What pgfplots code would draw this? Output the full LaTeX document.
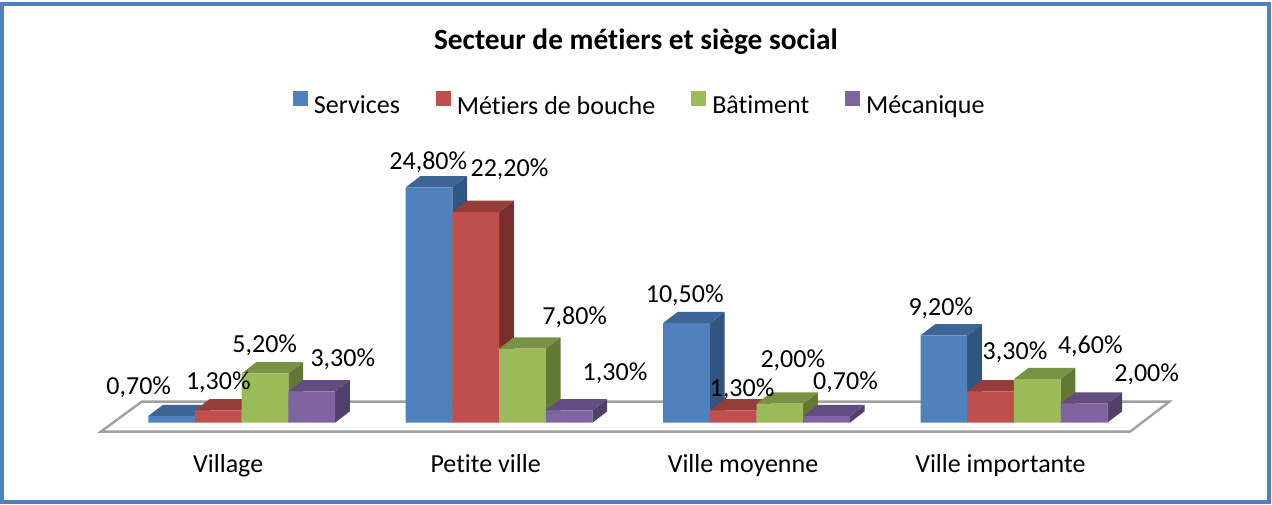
\documentclass[border=0pt]{standalone}
\usepackage{pgfplots}
\pgfplotsset{compat=1.18}
\usepackage{pgfplotstable}
\usepackage{fontspec}
\setmainfont{Carlito}[Ligatures=NoCommon]

\definecolor{fS}{HTML}{4F81BD}\definecolor{tS}{HTML}{3D6696}\definecolor{sS}{HTML}{2F5580}
\definecolor{fM}{HTML}{C0504D}\definecolor{tM}{HTML}{953D3B}\definecolor{sM}{HTML}{7B2F2D}
\definecolor{fB}{HTML}{9BBB59}\definecolor{tB}{HTML}{789343}\definecolor{sB}{HTML}{627935}
\definecolor{fK}{HTML}{8064A2}\definecolor{tK}{HTML}{634D80}\definecolor{sK}{HTML}{533F6B}
\definecolor{floorgray}{HTML}{A0A0A0}
\definecolor{frame}{HTML}{4F81BD}

\newcommand\lab{\fontsize{13}{15}\selectfont}

\pgfplotstableread{
g h
0 0.7
1 24.8
2 10.5
3 9.2
}\tServices
\pgfplotstableread{
g h
0 1.3
1 22.2
2 1.3
3 3.3
}\tBouche
\pgfplotstableread{
g h
0 5.2
1 7.8
2 2.0
3 4.6
}\tBatiment
\pgfplotstableread{
g h
0 3.3
1 1.3
2 0.7
3 2.0
}\tMecanique

\def\bw{0.1814}
\def\dxu{0.0571}
\def\dyu{1.19}

% side and top faces of the 3D bars, computed from the table values
\newcommand\faces[4]{%
 \pgfplotsforeachungrouped \r in {0,1,2,3}{%
  \pgfplotstablegetelem{\r}{g}\of{#1}\let\gv\pgfplotsretval
  \pgfplotstablegetelem{\r}{h}\of{#1}\let\hv\pgfplotsretval
  \pgfmathsetmacro\xL{\gv+#2}%
  \pgfmathsetmacro\xR{\xL+\bw}%
  \pgfmathsetmacro\xLd{\xL+\dxu}%
  \pgfmathsetmacro\xRd{\xR+\dxu}%
  \pgfmathsetmacro\hd{\hv+\dyu}%
  \edef\temp{%
   \noexpand\addplot[forget plot, fill=#3, draw=none] coordinates {(\xR,0) (\xRd,\dyu) (\xRd,\hd) (\xR,\hv)} -- cycle;%
   \noexpand\addplot[forget plot, fill=#4, draw=none] coordinates {(\xL,\hv) (\xR,\hv) (\xRd,\hd) (\xLd,\hd)} -- cycle;%
  }\temp
 }%
}

\begin{document}
\begin{tikzpicture}
\begin{axis}[
 at={(0,0)}, anchor=south west,
 scale only axis, width=636pt, height=252pt,
 xmin=-0.939, xmax=4.0027, ymin=-8.567, ymax=44.54,
 clip=false,
 axis line style={draw=none},
 ytick=\empty,
 xtick={-0.0524,0.9476,1.9476,2.9476},
 xticklabels={Village,Petite ville,Ville moyenne,Ville importante},
 xtick style={draw=none},
 xticklabel style={anchor=base, yshift=15.65pt, font=\lab},
 title={Secteur de métiers et siège social},
 every axis title shift=0pt,
 title style={at={(axis description cs:0.5,0.9008)}, anchor=base, font=\fontsize{14.7}{17}\selectfont\bfseries},
 legend columns=4,
 legend style={draw=none, fill=none, inner sep=0pt, outer sep=0pt, font=\lab,
   at={(axis description cs:0.2303,0.794)}, anchor=west,
   column sep=3pt, /tikz/every even column/.append style={column sep=18pt},
   nodes={inner sep=0pt}},
 legend image code/.code={\fill[#1] (0pt,0.5pt) rectangle (7.5pt,8pt);},
]
% floor
\addplot[forget plot, draw=floorgray, line width=1.2pt, fill=white]
  coordinates {(-0.5478,-0.948) (3.4511,-0.948) (3.6038,2.213) (-0.3885,2.213)} -- cycle;

\faces{\tServices}{-0.3628}{sS}{tS}
\addplot[forget plot, ybar, bar width=\bw, bar shift=0pt, fill=fS, draw=none]
  table[x expr=\thisrow{g}-0.2721, y=h] {\tServices};
\faces{\tBouche}{-0.1814}{sM}{tM}
\addplot[forget plot, ybar, bar width=\bw, bar shift=0pt, fill=fM, draw=none]
  table[x expr=\thisrow{g}-0.0907, y=h] {\tBouche};
\faces{\tBatiment}{0}{sB}{tB}
\addplot[forget plot, ybar, bar width=\bw, bar shift=0pt, fill=fB, draw=none]
  table[x expr=\thisrow{g}+0.0907, y=h] {\tBatiment};
\faces{\tMecanique}{0.1814}{sK}{tK}
\addplot[forget plot, ybar, bar width=\bw, bar shift=0pt, fill=fK, draw=none]
  table[x expr=\thisrow{g}+0.2721, y=h] {\tMecanique};

\addlegendimage{fill=fS, draw=none}\addlegendentry{Services}
\addlegendimage{fill=fM, draw=none}\addlegendentry{Métiers de bouche}
\addlegendimage{fill=fB, draw=none}\addlegendentry{Bâtiment}
\addlegendimage{fill=fK, draw=none}\addlegendentry{Mécanique}

% data labels
\begin{scope}[every node/.style={anchor=base, font=\lab, inner sep=0pt}]
\node at (axis cs:-0.4002,2.919) {0,70\%};
\node at (axis cs:-0.0909,3.446) {1,30\%};
\node at (axis cs:0.0894,7.397) {5,20\%};
\node at (axis cs:0.3928,5.901) {3,30\%};
\node at (axis cs:0.7249,26.702) {24,80\%};
\node at (axis cs:1.0404,25.922) {22,20\%};
\node at (axis cs:1.2937,10.295) {7,80\%};
\node at (axis cs:1.4503,4.499) {1,30\%};
\node at (axis cs:1.7211,12.645) {10,50\%};
\node at (axis cs:1.9437,2.813) {1,30\%};
\node at (axis cs:2.1410,5.838) {2,00\%};
\node at (axis cs:2.3458,3.519) {0,70\%};
\node at (axis cs:2.7160,11.243) {9,20\%};
\node at (axis cs:3.0043,6.607) {3,30\%};
\node at (axis cs:3.2968,7.239) {4,60\%};
\node at (axis cs:3.5156,4.320) {2,00\%};
\end{scope}
\end{axis}
\draw[frame, line width=2pt] (1pt,1pt) rectangle (634.25pt,250pt);
\pgfresetboundingbox
\path (0,0) rectangle (636pt,252pt);
\end{tikzpicture}
\end{document}
